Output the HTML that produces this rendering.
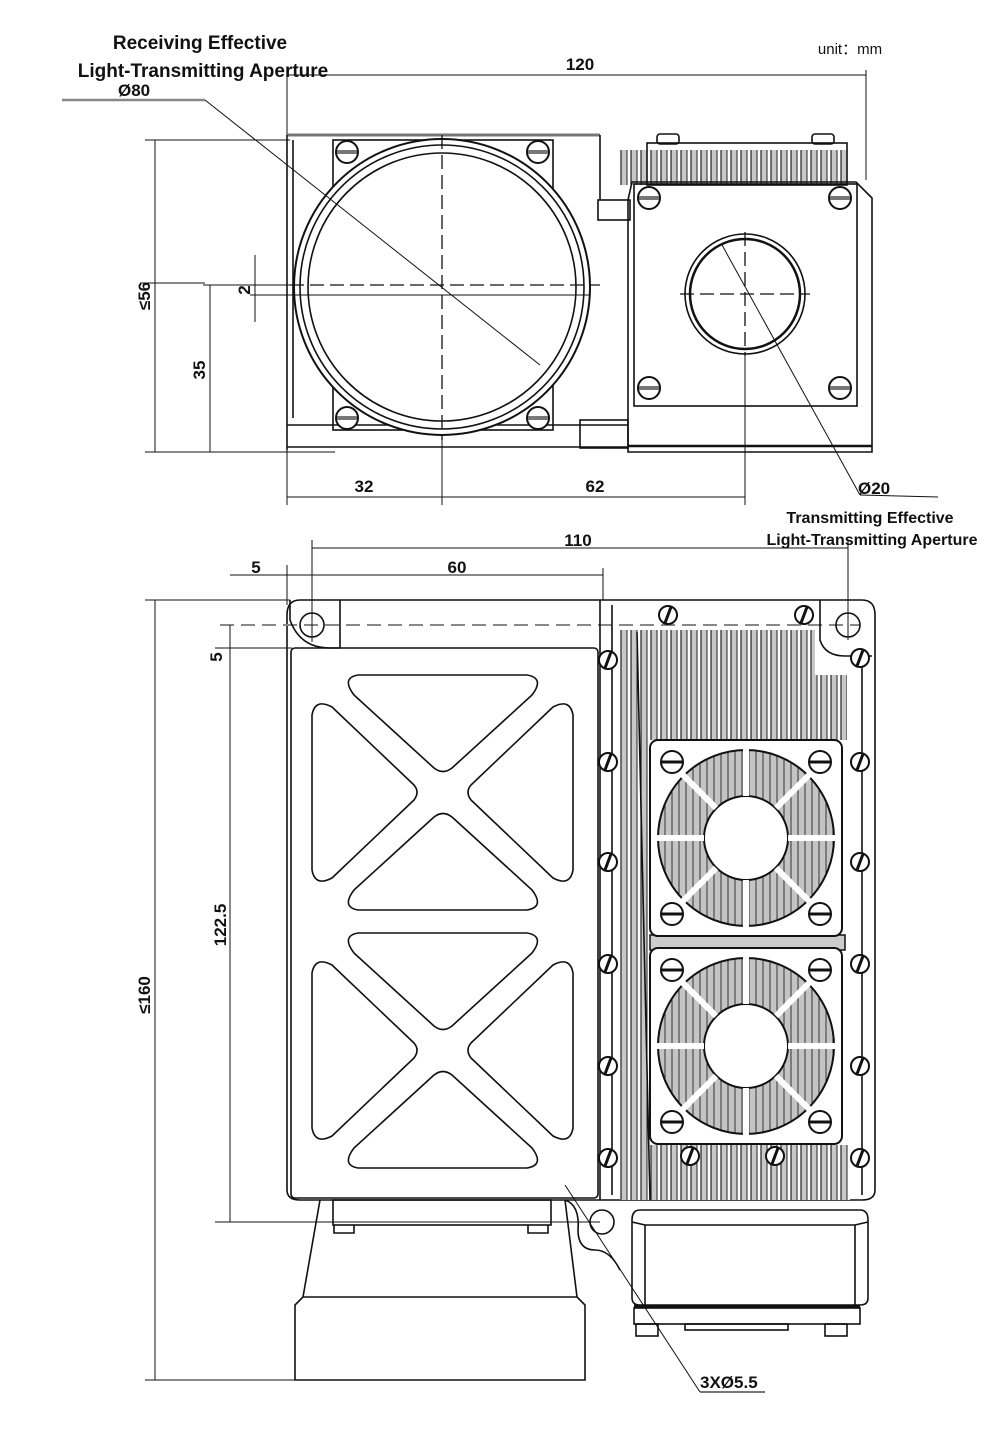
<!DOCTYPE html>
<html><head><meta charset="utf-8"><style>
html,body{margin:0;padding:0;background:#fff}
svg{display:block}
text{font-family:"Liberation Sans",sans-serif}
.l{fill:none;stroke:#111;stroke-width:1.6}
.t{fill:none;stroke:#111;stroke-width:1}
.g{fill:none;stroke:#777;stroke-width:2}
.d{fill:none;stroke:#111;stroke-width:1.3;stroke-dasharray:14 6}
.dim{font-family:"Liberation Sans Narrow","Liberation Sans",sans-serif;font-weight:bold;font-size:17px;fill:#111}
</style></head><body>
<svg width="1000" height="1453" viewBox="0 0 1000 1453" xmlns="http://www.w3.org/2000/svg">
<defs>
<pattern id="fins" width="10" height="20" patternUnits="userSpaceOnUse">
<rect width="10" height="20" fill="#fff"/><rect x="1" width="6" height="20" fill="#c8c8c8"/><line x1="1" y1="0" x2="1" y2="20" stroke="#222" stroke-width="1.2"/><line x1="7" y1="0" x2="7" y2="20" stroke="#222" stroke-width="1"/>
</pattern>
<pattern id="hatch" width="7" height="10" patternUnits="userSpaceOnUse">
<rect width="7" height="10" fill="#c4c4c4"/><line x1="1" y1="0" x2="1" y2="10" stroke="#333" stroke-width="1"/>
</pattern>
<g id="screw"><circle r="9" fill="#fff" stroke="#111" stroke-width="2"/><line x1="-3" y1="8" x2="3" y2="-8" stroke="#111" stroke-width="3"/></g>
<g id="screwh"><circle r="11" fill="#fff" stroke="#111" stroke-width="2"/><line x1="-10" y1="0" x2="10" y2="0" stroke="#777" stroke-width="4"/></g>
<g id="fan">
<rect x="0" y="0" width="192" height="196" rx="8" fill="#fff" stroke="#111" stroke-width="2"/>
<circle cx="96" cy="98" r="88" fill="url(#hatch)" stroke="#111" stroke-width="2"/>
<circle cx="96" cy="98" r="42" fill="#fff" stroke="#111" stroke-width="2"/>
<g stroke="#fff" stroke-width="6">
<line x1="96" y1="8" x2="96" y2="56"/><line x1="96" y1="140" x2="96" y2="188"/>
<line x1="6" y1="98" x2="54" y2="98"/><line x1="138" y1="98" x2="186" y2="98"/>
<line x1="32" y1="34" x2="66" y2="68"/><line x1="126" y1="128" x2="160" y2="162"/>
<line x1="160" y1="34" x2="126" y2="68"/><line x1="66" y1="128" x2="32" y2="162"/>
</g>
<g transform="translate(22,22)"><circle r="11" fill="#fff" stroke="#111" stroke-width="2"/><line x1="-10" y1="0" x2="10" y2="0" stroke="#111" stroke-width="3"/></g>
<g transform="translate(170,22)"><circle r="11" fill="#fff" stroke="#111" stroke-width="2"/><line x1="-10" y1="0" x2="10" y2="0" stroke="#111" stroke-width="3"/></g>
<g transform="translate(22,174)"><circle r="11" fill="#fff" stroke="#111" stroke-width="2"/><line x1="-10" y1="0" x2="10" y2="0" stroke="#111" stroke-width="3"/></g>
<g transform="translate(170,174)"><circle r="11" fill="#fff" stroke="#111" stroke-width="2"/><line x1="-10" y1="0" x2="10" y2="0" stroke="#111" stroke-width="3"/></g>
</g>
<g id="xpanel" fill="none" stroke="#111" stroke-width="1.6" stroke-linejoin="round">
<path d="M358,675 H527 Q545,678 532,695 L452,768 Q443,775 434,768 L354,695 Q341,678 358,675 Z"/>
<path d="M358,910 H527 Q545,907 532,890 L452,817 Q443,810 434,817 L354,890 Q341,907 358,910 Z"/>
<path d="M312,715 V870 Q315,887 332,878 L414,800 Q420,792 414,785 L332,707 Q315,698 312,715 Z"/>
<path d="M573,715 V870 Q570,887 553,878 L471,800 Q465,792 471,785 L553,707 Q570,698 573,715 Z"/>
</g>
</defs>

<!-- ====== TOP VIEW ====== -->
<text x="200" y="49" text-anchor="middle" font-size="19" font-weight="bold" fill="#111">Receiving Effective</text>
<text x="203" y="77" text-anchor="middle" font-size="19" font-weight="bold" fill="#111">Light-Transmitting Aperture</text>
<text x="850" y="54" text-anchor="middle" font-size="15" fill="#111">unit：mm</text>
<line class="t" x1="287" y1="75" x2="866" y2="75"/>
<line class="t" x1="287" y1="70" x2="287" y2="505"/>
<line class="t" x1="866" y1="70" x2="866" y2="180"/>
<text class="dim" x="580" y="70" text-anchor="middle">120</text>
<line x1="62" y1="100" x2="205" y2="100" stroke="#888" stroke-width="2.5"/>
<text class="dim" x="118" y="96">Ø80</text>
<line x1="287" y1="135" x2="600" y2="135" stroke="#777" stroke-width="3"/>
<line class="l" x1="293" y1="140" x2="293" y2="418"/>
<line class="l" x1="287" y1="135" x2="287" y2="450"/>
<line class="l" x1="287" y1="447" x2="628" y2="447"/>
<line class="l" x1="287" y1="425" x2="628" y2="425"/>
<line class="l" x1="600" y1="135" x2="600" y2="200"/>
<rect class="l" x="598" y="200" width="32" height="20"/>
<rect class="l" x="580" y="420" width="48" height="28"/>
<rect class="l" x="333" y="140" width="220" height="290"/>
<use href="#screwh" x="347" y="152"/><use href="#screwh" x="538" y="152"/>
<use href="#screwh" x="347" y="418"/><use href="#screwh" x="538" y="418"/>
<circle cx="442" cy="287" r="148" fill="#fff" stroke="#111" stroke-width="2"/>
<circle cx="442" cy="287" r="142" class="l"/>
<circle cx="442" cy="287" r="134" class="l"/>
<line class="d" x1="442" y1="135" x2="442" y2="440"/>
<line class="d" x1="290" y1="285" x2="600" y2="285"/>
<line class="t" x1="250" y1="295" x2="590" y2="295"/>
<line class="t" x1="442" y1="440" x2="442" y2="505"/>
<line class="t" x1="140" y1="283" x2="205" y2="283" stroke="#777"/>
<line class="t" x1="203" y1="285" x2="290" y2="285"/>
<line class="t" x1="205" y1="100" x2="540" y2="365"/>
<rect x="620" y="150" width="230" height="35" fill="url(#fins)"/>
<rect class="l" x="647" y="143" width="200" height="42"/>
<rect class="l" x="657" y="134" width="22" height="10" rx="3"/>
<rect class="l" x="812" y="134" width="22" height="10" rx="3"/>
<path class="l" d="M632,182 H856 L872,198 V452 H628 V200 Z" fill="#fff"/>
<rect class="l" x="634" y="184" width="223" height="222"/>
<line x1="628" y1="446" x2="872" y2="446" stroke="#111" stroke-width="2.5"/>
<use href="#screwh" x="649" y="198"/><use href="#screwh" x="840" y="198"/>
<use href="#screwh" x="649" y="388"/><use href="#screwh" x="840" y="388"/>
<circle cx="745" cy="294" r="60" class="l"/>
<circle cx="745" cy="294" r="55" fill="none" stroke="#111" stroke-width="2.5"/>
<line class="d" x1="745" y1="232" x2="745" y2="356"/>
<line class="d" x1="680" y1="294" x2="810" y2="294"/>
<line class="t" x1="745" y1="356" x2="745" y2="505"/>
<line class="t" x1="722" y1="245" x2="860" y2="495"/>
<line class="t" x1="860" y1="495" x2="938" y2="497"/>
<text class="dim" x="858" y="494">Ø20</text>
<text x="870" y="523" text-anchor="middle" font-size="16" font-weight="bold" fill="#111">Transmitting Effective</text>
<text x="872" y="545" text-anchor="middle" font-size="16" font-weight="bold" fill="#111">Light-Transmitting Aperture</text>
<line class="t" x1="145" y1="140" x2="290" y2="140"/>
<line class="t" x1="145" y1="452" x2="335" y2="452"/>
<line class="t" x1="155" y1="140" x2="155" y2="452"/>
<text class="dim" transform="translate(150,296) rotate(-90)" text-anchor="middle">≤56</text>
<line class="t" x1="210" y1="285" x2="210" y2="452"/>
<text class="dim" transform="translate(205,370) rotate(-90)" text-anchor="middle">35</text>
<line class="t" x1="255" y1="255" x2="255" y2="322"/>
<text class="dim" transform="translate(250,290) rotate(-90)" text-anchor="middle">2</text>
<line class="t" x1="287" y1="497" x2="745" y2="497"/>
<text class="dim" x="364" y="492" text-anchor="middle">32</text>
<text class="dim" x="595" y="492" text-anchor="middle">62</text>

<!-- ====== BOTTOM VIEW ====== -->
<line class="t" x1="312" y1="548" x2="848" y2="548"/>
<text class="dim" x="578" y="546" text-anchor="middle">110</text>
<line class="t" x1="230" y1="575" x2="603" y2="575"/>
<text class="dim" x="457" y="573" text-anchor="middle">60</text>
<text class="dim" x="256" y="573" text-anchor="middle">5</text>
<line class="t" x1="312" y1="540" x2="312" y2="628"/>
<line class="t" x1="287" y1="565" x2="287" y2="605"/>
<line class="t" x1="603" y1="568" x2="603" y2="600"/>
<line class="t" x1="848" y1="540" x2="848" y2="640"/>
<path class="l" d="M300,600 H862 Q875,600 875,615 V1190 Q875,1200 862,1200 H300 Q287,1200 287,1190 V615 Q287,600 300,600 Z" fill="#fff"/>
<line x1="220" y1="625" x2="860" y2="625" stroke="#888" stroke-width="2" stroke-dasharray="14 7"/>
<path class="l" d="M290,600 V620 Q300,648 330,648 H340 V600"/>
<circle cx="312" cy="625" r="12" class="l"/><line class="t" x1="312" y1="610" x2="312" y2="642"/>
<path class="l" d="M820,600 V640 Q825,656 845,656 H872"/>
<circle cx="848" cy="625" r="12" class="l"/>
<rect class="l" x="291" y="648" width="307" height="550" rx="4"/>
<line class="l" x1="600" y1="600" x2="600" y2="1200"/>
<use href="#xpanel"/>
<use href="#xpanel" y="258"/>
<rect x="620" y="630" width="195" height="110" fill="url(#fins)"/>
<rect x="815" y="675" width="32" height="65" fill="url(#fins)"/>
<rect x="620" y="630" width="28" height="570" fill="url(#fins)"/>
<rect x="640" y="1145" width="210" height="55" fill="url(#fins)"/>
<line class="l" x1="637" y1="632" x2="650" y2="1200"/>
<rect x="650" y="935" width="195" height="15" fill="#ccc" stroke="#111" stroke-width="1.5"/>
<line class="l" x1="612" y1="605" x2="612" y2="1195"/>
<line class="l" x1="862" y1="660" x2="862" y2="1195"/>
<use href="#fan" x="650" y="740"/>
<use href="#fan" x="650" y="948"/>
<use href="#screw" x="668" y="615"/><use href="#screw" x="804" y="615"/>
<use href="#screw" x="608" y="660"/><use href="#screw" x="608" y="762"/><use href="#screw" x="608" y="862"/><use href="#screw" x="608" y="964"/><use href="#screw" x="608" y="1066"/><use href="#screw" x="608" y="1158"/>
<use href="#screw" x="860" y="658"/><use href="#screw" x="860" y="762"/><use href="#screw" x="860" y="862"/><use href="#screw" x="860" y="964"/><use href="#screw" x="860" y="1066"/><use href="#screw" x="860" y="1158"/>
<use href="#screw" x="690" y="1156"/><use href="#screw" x="775" y="1156"/>
<rect class="l" x="333" y="1200" width="218" height="25"/>
<path class="l" d="M334,1225 v8 h20 v-8 M528,1225 v8 h20 v-8"/>
<path class="l" d="M320,1200 L303,1297 L295,1305 V1380 H585 V1305 L577,1297 L565,1200"/>
<line class="l" x1="303" y1="1297" x2="577" y2="1297"/>
<path class="l" d="M565,1200 Q580,1205 578,1230 Q578,1250 595,1250 Q610,1250 620,1270"/>
<circle cx="602" cy="1222" r="12" class="l"/>
<path class="l" d="M640,1210 H860 Q868,1210 868,1220 V1298 Q868,1305 860,1305 H640 Q632,1305 632,1298 V1220 Q632,1210 640,1210 Z"/>
<path class="l" d="M632,1222 L645,1225 H855 L868,1222"/>
<line class="l" x1="645" y1="1225" x2="645" y2="1305"/>
<line class="l" x1="855" y1="1225" x2="855" y2="1305"/>
<rect class="l" x="634" y="1308" width="226" height="16"/>
<line x1="634" y1="1306" x2="860" y2="1306" stroke="#111" stroke-width="3"/>
<rect class="l" x="636" y="1324" width="22" height="12"/><rect class="l" x="825" y="1324" width="22" height="12"/><rect class="l" x="685" y="1324" width="103" height="6"/>
<line class="t" x1="565" y1="1185" x2="700" y2="1392"/>
<line x1="700" y1="1392" x2="765" y2="1392" stroke="#777" stroke-width="2"/>
<text class="dim" x="700" y="1388" font-size="18">3XØ5.5</text>
<line class="t" x1="145" y1="600" x2="290" y2="600"/>
<line class="t" x1="145" y1="1380" x2="300" y2="1380"/>
<line class="t" x1="155" y1="600" x2="155" y2="1380"/>
<text class="dim" transform="translate(150,995) rotate(-90)" text-anchor="middle">≤160</text>
<line class="t" x1="215" y1="1222" x2="600" y2="1222"/>
<line class="t" x1="230" y1="625" x2="230" y2="1222"/>
<text class="dim" transform="translate(226,925) rotate(-90)" text-anchor="middle">122.5</text>
<line class="t" x1="215" y1="648" x2="292" y2="648"/>
<text class="dim" transform="translate(222,657) rotate(-90)" text-anchor="middle">5</text>
</svg>
</body></html>
